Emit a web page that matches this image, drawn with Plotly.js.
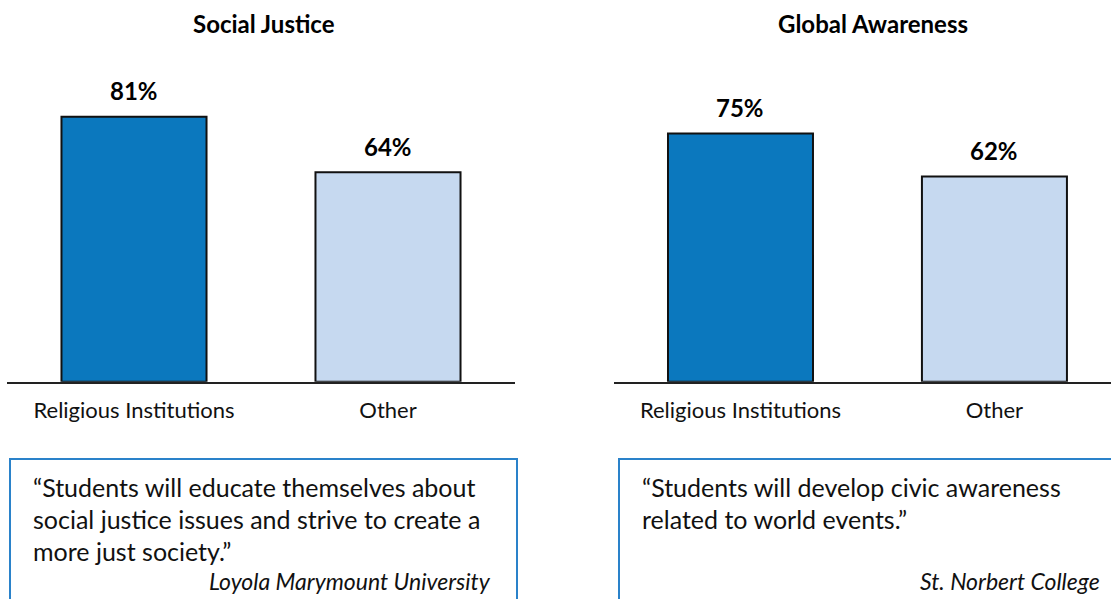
<!DOCTYPE html>
<html>
<head>
<meta charset="utf-8">
<script src="https://cdn.plot.ly/plotly-3.0.1.min.js"></script>
<style>html,body{margin:0;padding:0;background:#fff;}#chart{width:1111px;height:599px;}</style>
</head>
<body>
<div id="chart"></div>
<script>
// ---- data ----
const categories = ['Religious Institutions', 'Other'];
const socialJustice = [81, 64];
const globalAwareness = [75, 62];
const panelTitles = ['Social Justice', 'Global Awareness'];
const quoteLeft = ['\u201CStudents will educate themselves about', 'social justice issues and strive to create a', 'more just society.\u201D'];
const quoteRight = ['\u201CStudents will develop civic awareness', 'related to world events.\u201D'];
const attributions = ['Loyola Marymount University', 'St. Norbert College'];

// ---- styling ----
const W = 1111, H = 599;
const px = v => v / W;
const py = v => 1 - v / H;
const FONT = 'Lato, "Open Sans", sans-serif';
const barColors = ['#0b78be', '#c6d9f0'];
const boxColor = '#2a82ca';
const baseY = 381.7;

const traces = [
  {type: 'bar', x: categories, y: socialJustice, xaxis: 'x', yaxis: 'y', width: 0.571,
   marker: {color: barColors, line: {color: '#111', width: 2}}, hoverinfo: 'skip', showlegend: false},
  {type: 'bar', x: categories, y: globalAwareness, xaxis: 'x2', yaxis: 'y2', width: 0.571,
   marker: {color: barColors, line: {color: '#111', width: 2}}, hoverinfo: 'skip', showlegend: false}
];

const annotations = [];
// value labels
[[socialJustice, 'x', 'y'], [globalAwareness, 'x2', 'y2']].forEach(([vals, xr, yr]) => {
  vals.forEach((v, i) => annotations.push({
    x: categories[i], y: v, xref: xr, yref: yr, text: '<b>' + v + '%</b>',
    showarrow: false, yanchor: 'middle', xanchor: 'center', yshift: 26,
    font: {family: FONT, size: 24, color: '#000'}
  }));
});
// titles
const titleX = [263.5, 872.5];
panelTitles.forEach((t, i) => annotations.push({
  x: px(titleX[i]), y: py(24), xref: 'paper', yref: 'paper', text: '<b>' + t + '</b>',
  showarrow: false, xanchor: 'center', yanchor: 'middle',
  font: {family: FONT, size: 24, color: '#000'}
}));
// quotes
const quoteX = [31, 640];
const lineY = [487, 519, 551];
[quoteLeft, quoteRight].forEach((lines, k) => {
  lines.forEach((ln, j) => annotations.push({
    x: px(quoteX[k]), y: py(lineY[j]), xref: 'paper', yref: 'paper', text: ln,
    showarrow: false, xanchor: 'left', yanchor: 'middle',
    font: {family: FONT, size: 25, color: '#111'}
  }));
});
const attrX = [493, 1102];
attributions.forEach((a, k) => annotations.push({
  x: px(attrX[k]), y: py(581), xref: 'paper', yref: 'paper', text: a,
  showarrow: false, xanchor: 'right', yanchor: 'middle',
  font: {family: FONT, size: 23, color: '#111', style: 'italic'}
}));

const shapes = [
  {type: 'rect', xref: 'paper', yref: 'paper', x0: px(10), x1: px(517), y0: -0.2, y1: py(459),
   line: {color: boxColor, width: 2}, fillcolor: 'rgba(0,0,0,0)'},
  {type: 'rect', xref: 'paper', yref: 'paper', x0: px(619), x1: px(1130), y0: -0.2, y1: py(459),
   line: {color: boxColor, width: 2}, fillcolor: 'rgba(0,0,0,0)'}
];

const xaxisCommon = {
  type: 'category', showgrid: false, zeroline: false, showline: true, linecolor: '#222', linewidth: 2,
  ticks: '', tickfont: {family: FONT, size: 22, color: '#111'}, ticklabelstandoff: 8, fixedrange: true
};
const layout = {
  width: W, height: H,
  margin: {l: 0, r: 0, t: 0, b: 0},
  paper_bgcolor: '#fff', plot_bgcolor: '#fff',
  xaxis: Object.assign({}, xaxisCommon, {domain: [px(7), px(515)], range: [-0.5, 1.5], anchor: 'y'}),
  xaxis2: Object.assign({}, xaxisCommon, {domain: [px(613.5), 1], range: [-0.5, 1.459], anchor: 'y2'}),
  yaxis: {domain: [py(baseY), 1], range: [0, baseY / 3.272], visible: false, fixedrange: true, anchor: 'x'},
  yaxis2: {domain: [py(baseY), 1], range: [0, baseY / 3.31], visible: false, fixedrange: true, anchor: 'x2'},
  annotations: annotations,
  shapes: shapes,
  showlegend: false
};

Plotly.newPlot('chart', traces, layout, {displayModeBar: false, staticPlot: true});
</script>
</body>
</html>
